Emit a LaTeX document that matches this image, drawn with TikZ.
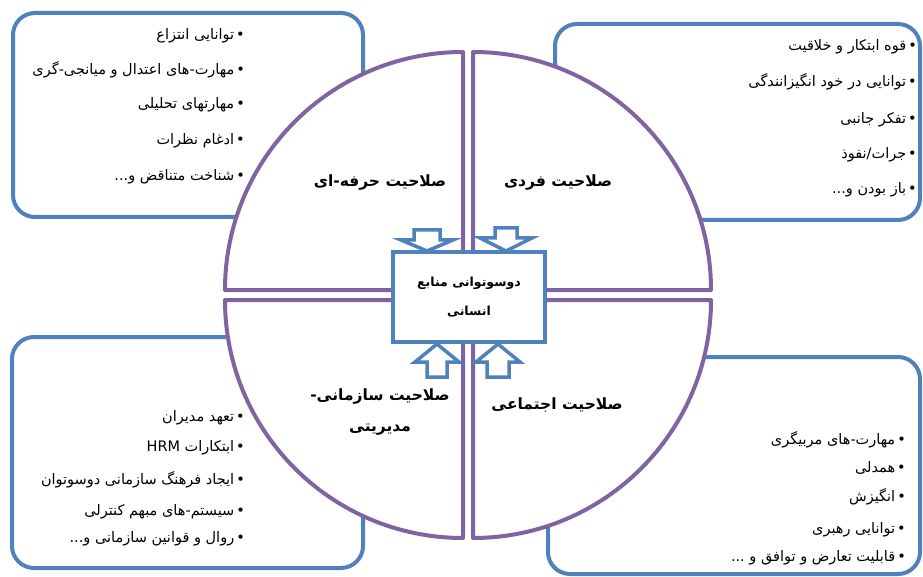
\documentclass[tikz,border=0pt]{standalone}
\usepackage{fontspec}
\newfontfamily\arabicfont[Script=Arabic]{DejaVu Sans}
\TeXXeTstate=1
\definecolor{hrblue}{HTML}{4F81BD}
\definecolor{hrpurple}{HTML}{8064A2}
\newcommand{\farsi}[1]{\beginR #1\endR}
\newcommand{\blt}{•\kern2pt}
\tikzset{
  listbox/.style={draw=hrblue, line width=4pt, rounded corners=22pt},
  sector/.style={draw=hrpurple, fill=white, line width=4pt, line join=round},
  blockarrow/.style={draw=hrblue, fill=white, line width=3.5pt, line join=miter},
  listitem/.style={anchor=east, inner sep=0pt, font=\arabicfont\fontsize{14.5}{16}\selectfont},
  seclabel/.style={align=center, inner sep=0pt, font=\arabicfont\bfseries\fontsize{15.5}{31}\selectfont},
}
\begin{document}
\begin{tikzpicture}[x=1pt, y=-1pt]
        \useasboundingbox (0,0) rectangle (923,577);

        % Boxes
        \draw[listbox] (13,13) rectangle (363,217);
        \draw[listbox] (555,24) rectangle (920,220);
        \draw[listbox] (12,337) rectangle (363,568);
        \draw[listbox] (548,357) rectangle (920,574);

        % Quarters
        \draw[sector] (473,290) -- (473,52) arc[start angle=90, end angle=0, radius=238pt] -- cycle;
        \draw[sector] (463,290) -- (225,290) arc[start angle=180, end angle=90, radius=238pt] -- cycle;
        \draw[sector] (463,300) -- (463,538) arc[start angle=270, end angle=180, radius=238pt] -- cycle;
        \draw[sector] (473,300) -- (711,300) arc[start angle=0, end angle=-90, radius=238pt] -- cycle;

        % Centre
        \node[draw=hrblue, fill=white, line width=4pt, minimum width=152pt, minimum height=90pt,
              align=center, font=\arabicfont\bfseries\fontsize{12.5}{29}\selectfont]
              (hr) at (469,297) {\farsi{دوسوتوانی منابع}\\\farsi{انسانی}};

        \draw[blockarrow] (427,251) -- ++(26,-11) -- ++(-13,0) -- ++(0,-10) -- ++(-26,0) -- ++(0,10) -- ++(-13,0) -- cycle;
        \draw[blockarrow] (506,251) -- ++(26,-13) -- ++(-15,0) -- ++(0,-10) -- ++(-22,0) -- ++(0,10) -- ++(-15,0) -- cycle;
        \draw[blockarrow] (437,344) -- ++(22,18) -- ++(-12,0) -- ++(0,15) -- ++(-20,0) -- ++(0,-15) -- ++(-12,0) -- cycle;
        \draw[blockarrow] (498,344) -- ++(22,18) -- ++(-11,0) -- ++(0,15) -- ++(-22,0) -- ++(0,-15) -- ++(-11,0) -- cycle;

        % Quarter labels
        \node[seclabel] (prof) at (380,183) {\farsi{صلاحیت حرفه-ای}};
        \node[seclabel] (indiv) at (558,183) {\farsi{صلاحیت فردی}};
        \node[seclabel] (org) at (380,412) {\farsi{صلاحیت سازمانی-}\\\farsi{مدیریتی}};
        \node[seclabel] (soc) at (557,405) {\farsi{صلاحیت اجتماعی}};

        % Lists
        \node[listitem] (prof1) at (245,36)  {\farsi{\blt توانایی انتزاع}};
        \node[listitem] (prof2) at (245,70)  {\farsi{\blt مهارت-های اعتدال و میانجی-گری}};
        \node[listitem] (prof3) at (245,105) {\farsi{\blt مهارتهای تحلیلی}};
        \node[listitem] (prof4) at (245,141) {\farsi{\blt ادغام نظرات}};
        \node[listitem] (prof5) at (245,177) {\farsi{\blt شناخت متناقض و...}};

        \node[listitem] (indiv1) at (917,47)  {\farsi{\blt قوه ابتکار و خلاقیت}};
        \node[listitem] (indiv2) at (917,82)  {\farsi{\blt توانایی در خود انگیزانندگی}};
        \node[listitem] (indiv3) at (917,120) {\farsi{\blt تفکر جانبی}};
        \node[listitem] (indiv4) at (917,155) {\farsi{\blt جرات/نفوذ}};
        \node[listitem] (indiv5) at (917,190) {\farsi{\blt باز بودن و...}};

        \node[listitem] (org1) at (245,418) {\farsi{\blt تعهد مدیران}};
        \node[listitem] (org2) at (245,448) {\farsi{\blt ابتکارات \beginL HRM\endL}};
        \node[listitem] (org3) at (245,480) {\farsi{\blt ایجاد فرهنگ سازمانی دوسوتوان}};
        \node[listitem] (org4) at (245,512) {\farsi{\blt سیستم-های مبهم کنترلی}};
        \node[listitem] (org5) at (245,539) {\farsi{\blt روال و قوانین سازمانی و...}};

        \node[listitem] (soc1) at (906,440) {\farsi{\blt مهارت-های مربیگری}};
        \node[listitem] (soc2) at (906,468) {\farsi{\blt همدلی}};
        \node[listitem] (soc3) at (906,497) {\farsi{\blt انگیزش}};
        \node[listitem] (soc4) at (906,530) {\farsi{\blt توانایی رهبری}};
        \node[listitem] (soc5) at (906,558) {\farsi{\blt قابلیت تعارض و توافق و ...}};
    \end{tikzpicture}
\end{document}
